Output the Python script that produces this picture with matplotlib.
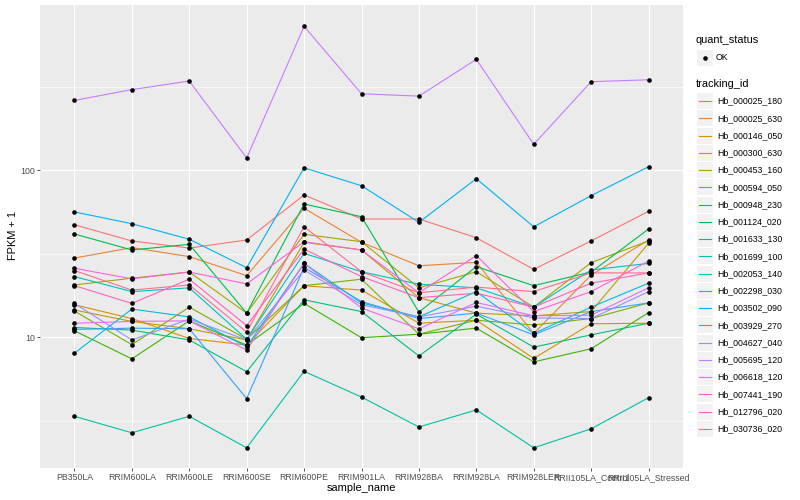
import numpy as np
import matplotlib.pyplot as plt
from matplotlib.patches import Rectangle
from matplotlib.lines import Line2D

plt.rcParams['font.family'] = ['Liberation Sans', 'DejaVu Sans']

samples = ['PB350LA', 'RRIM600LA', 'RRIM600LE', 'RRIM600SE', 'RRIM600PE', 'RRIM901LA',
           'RRIM928BA', 'RRIM928LA', 'RRIM928LER', 'RRII105LA_Control', 'RRII105LA_Stressed']

tracking_ids = ['Hb_000025_180', 'Hb_000025_630', 'Hb_000146_050', 'Hb_000300_630',
                'Hb_000453_160', 'Hb_000594_050', 'Hb_000948_230', 'Hb_001124_020',
                'Hb_001633_130', 'Hb_001699_100', 'Hb_002053_140', 'Hb_002298_030',
                'Hb_003502_090', 'Hb_003929_270', 'Hb_004627_040', 'Hb_005695_120',
                'Hb_006618_120', 'Hb_007441_190', 'Hb_012796_020', 'Hb_030736_020']

# ggplot default hue palette, 20 levels
colors = ['#F8766D', '#EA8331', '#D89000', '#C09B00', '#A3A500', '#7CAE00', '#39B600',
          '#00BB4E', '#00BF7D', '#00C1A3', '#00BFC4', '#00BAE0', '#00B0F6', '#35A2FF',
          '#9590FF', '#C77CFF', '#E76BF3', '#FA62DB', '#FF62BC', '#FF6C90']

# FPKM + 1 per sample
hb_000025_180 = [47.0, 37.6, 34.1, 38.1, 70.9, 50.9, 50.9, 39.3, 25.4, 37.6, 56.6]
hb_000025_630 = [29.7, 34.3, 30.3, 23.3, 59.0, 36.9, 26.7, 28.0, 10.5, 23.5, 38.1]
hb_000146_050 = [15.6, 12.9, 9.8, 8.95, 20.3, 19.1, 12.1, 12.6, 7.45, 12.0, 12.1]
hb_000300_630 = [14.5, 12.4, 11.2, 9.6, 36.9, 33.2, 17.2, 13.9, 13.4, 14.2, 36.4]
hb_000453_160 = [20.5, 22.5, 24.5, 13.9, 41.2, 37.2, 19.7, 24.6, 15.1, 27.9, 37.6]
hb_000594_050 = [14.3, 9.0, 15.1, 9.7, 20.3, 22.2, 10.4, 12.6, 11.8, 12.9, 16.0]
hb_000948_230 = [10.9, 7.4, 12.5, 8.95, 15.9, 9.9, 10.4, 11.3, 7.1, 8.5, 14.0]
hb_001124_020 = [41.4, 33.2, 35.9, 13.9, 62.6, 52.5, 14.1, 26.4, 20.3, 24.5, 44.3]
hb_001633_130 = [11.4, 11.0, 9.6, 6.2, 16.7, 14.2, 7.7, 13.7, 8.7, 10.3, 12.1]
hb_001699_100 = [3.35, 2.67, 3.35, 2.17, 6.23, 4.37, 2.89, 3.66, 2.17, 2.82, 4.33]
hb_002053_140 = [23.0, 18.7, 19.7, 9.7, 31.7, 24.6, 20.7, 19.7, 15.1, 25.2, 27.6]
hb_002298_030 = [8.0, 14.7, 13.2, 8.75, 27.6, 16.0, 13.2, 18.7, 10.5, 15.1, 21.0]
hb_003502_090 = [56.1, 47.7, 38.5, 26.0, 103.0, 80.5, 48.6, 88.7, 45.7, 70.2, 104.6]
hb_003929_270 = [11.1, 11.3, 11.2, 4.28, 26.1, 16.3, 12.9, 13.9, 10.3, 14.2, 16.0]
hb_004627_040 = [15.9, 9.6, 12.8, 9.6, 25.2, 15.6, 13.2, 15.3, 13.0, 12.9, 18.7]
hb_005695_120 = [261, 303, 341, 118, 725, 286, 277, 460, 142.5, 338, 347]
hb_006618_120 = [12.1, 12.4, 12.5, 8.35, 27.6, 14.9, 11.2, 16.1, 13.4, 13.5, 19.7]
hb_007441_190 = [25.8, 22.3, 24.5, 20.8, 37.2, 33.2, 18.4, 30.7, 14.2, 18.7, 28.5]
hb_012796_020 = [20.3, 15.9, 22.2, 11.7, 33.6, 23.0, 17.2, 18.3, 15.1, 21.0, 24.2]
hb_030736_020 = [25.0, 19.1, 20.5, 10.7, 45.7, 24.6, 18.4, 19.9, 18.7, 24.2, 24.2]

fpkm = [hb_000025_180, hb_000025_630, hb_000146_050, hb_000300_630, hb_000453_160,
        hb_000594_050, hb_000948_230, hb_001124_020, hb_001633_130, hb_001699_100,
        hb_002053_140, hb_002298_030, hb_003502_090, hb_003929_270, hb_004627_040,
        hb_005695_120, hb_006618_120, hb_007441_190, hb_012796_020, hb_030736_020]

W, H = 800, 500
fig = plt.figure(figsize=(8, 5), dpi=100)
ax = fig.add_axes([40 / W, 1 - 468 / H, (683 - 40) / W, (468 - 5) / H])
ax.set_facecolor('#EBEBEB')

x = np.arange(len(samples))
for vals, col in zip(fpkm, colors):
    ax.plot(x, vals, color=col, lw=0.8, zorder=2)
for vals in fpkm:
    ax.plot(x, vals, 'o', color='black', ms=2.3, ls='none', zorder=3)

ax.set_yscale('log')
ax.set_ylim(1.643, 973)
ax.set_xlim(-0.6, 10.6)
ax.set_xticks(x)
ax.set_xticklabels(samples)
ax.set_yticks([10, 100])
ax.set_yticklabels(['10', '100'])
ax.set_yticks([10 ** 0.5, 10 ** 1.5, 10 ** 2.5], minor=True)
ax.yaxis.set_minor_formatter(plt.NullFormatter())
ax.tick_params(which='minor', length=0)
ax.tick_params(which='major', length=2, width=0.6, color='#333333',
               labelsize=6.3, labelcolor='#4D4D4D', pad=1.6)

ax.grid(True, which='major', color='white', lw=0.8)
ax.grid(True, which='minor', axis='y', color='white', lw=0.4)
ax.set_axisbelow(True)
for s in ax.spines.values():
    s.set_visible(False)

fig.text(361 / W, 1 - 488 / H, 'sample_name', ha='center', va='center', fontsize=7.9)
fig.text(13 / W, 1 - 236 / H, 'FPKM + 1', ha='center', va='center', rotation=90, fontsize=7.9)

# legends, drawn by hand in ggplot style
def px(xp, yp):
    return xp / W, 1 - yp / H

fig.text(*px(696, 40), 'quant_status', va='center', fontsize=7.9)
fig.add_artist(Rectangle(px(697, 66), 16 / W, 16 / H, transform=fig.transFigure,
                         facecolor='#F2F2F2', edgecolor='none'))
fig.add_artist(Line2D([705 / W], [1 - 58 / H], marker='o', color='black', ms=2.3,
                      transform=fig.transFigure))
fig.text(*px(716, 58), 'OK', va='center', fontsize=6.3)

fig.text(*px(696, 84), 'tracking_id', va='center', fontsize=7.9)
for i, (tid, col) in enumerate(zip(tracking_ids, colors)):
    yc = 101 + i * 17.26
    fig.add_artist(Rectangle(px(697, yc + 8), 16 / W, 16 / H, transform=fig.transFigure,
                             facecolor='#F2F2F2', edgecolor='none'))
    fig.add_artist(Line2D([699 / W, 711 / W], [1 - yc / H, 1 - yc / H], color=col,
                          lw=0.8, transform=fig.transFigure))
    fig.text(*px(717, yc), tid, va='center', fontsize=6.3)

fig.savefig('out.png', dpi=100)
